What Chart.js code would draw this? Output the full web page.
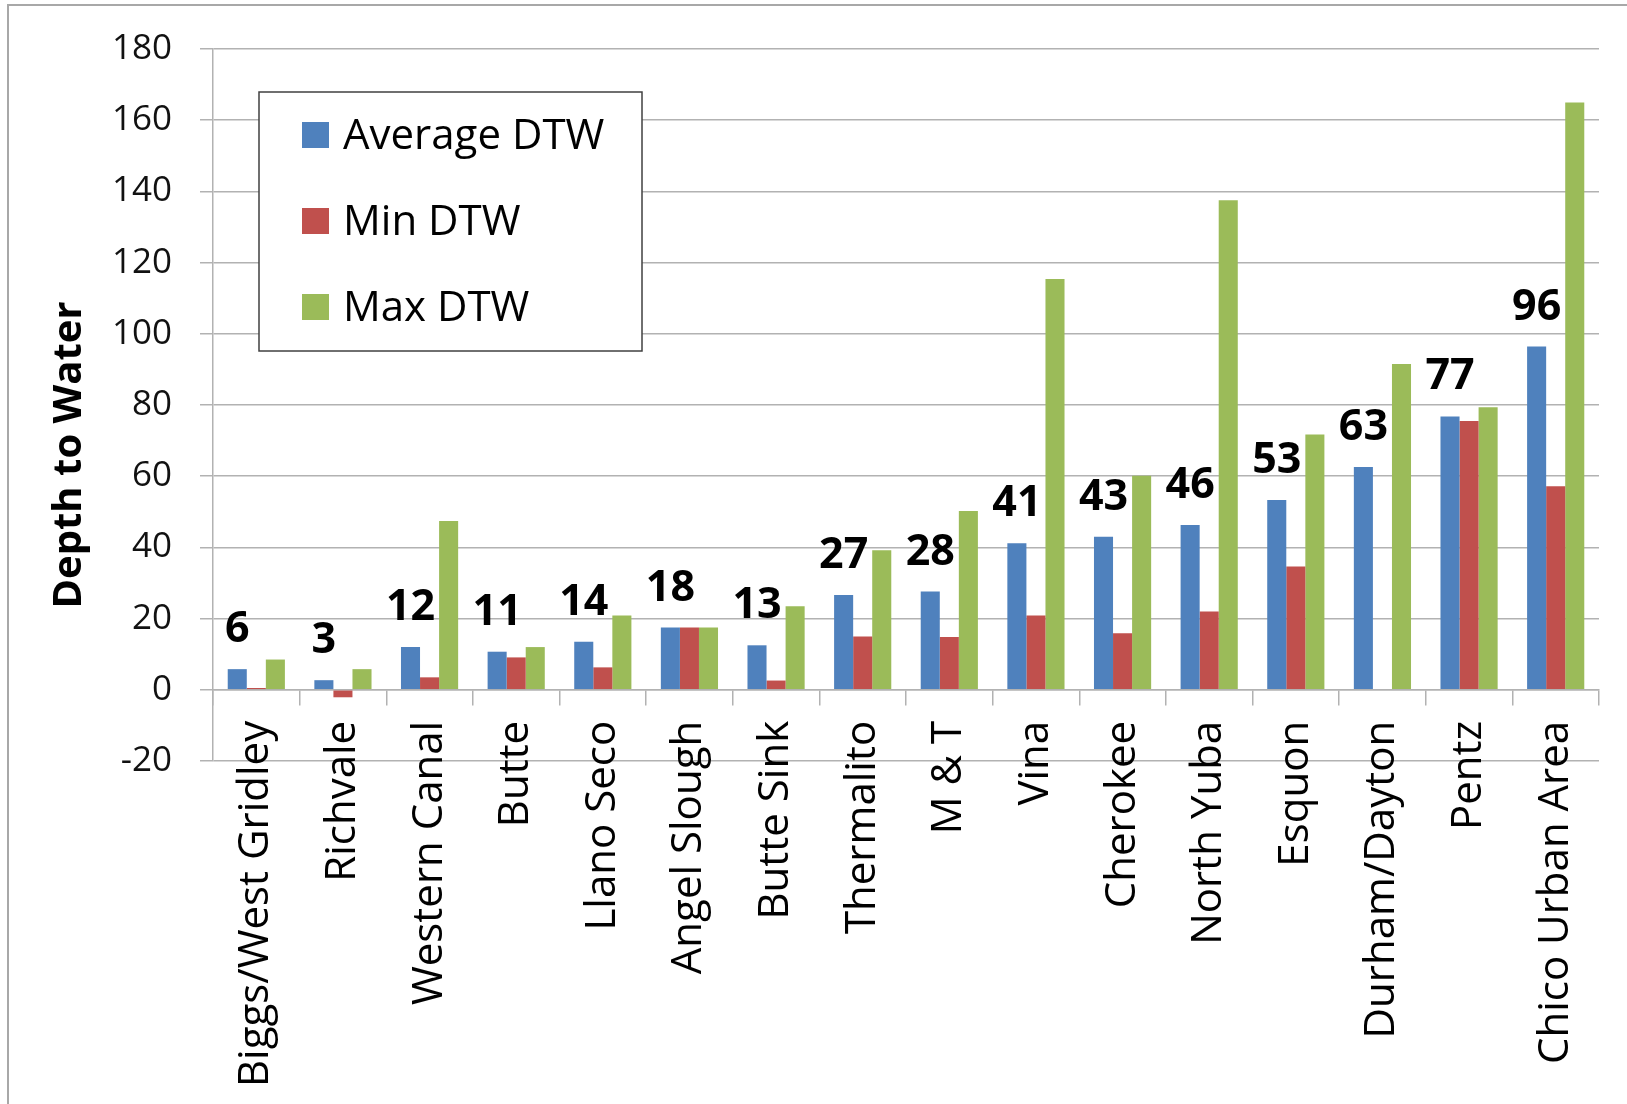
<!DOCTYPE html>
<html>
<head>
<meta charset="utf-8">
<title>Depth to Water</title>
<script src="https://cdn.jsdelivr.net/npm/chart.js@4.4.1/dist/chart.umd.min.js"></script>
<style>
    html, body { margin: 0; padding: 0; background: #fff; }
    #wrap { position: relative; width: 1627px; height: 1104px; }
</style>
</head>
<body>
<div id="wrap"><canvas id="dtwChart"></canvas></div>
<script>
const areas = [
    'Biggs/West Gridley', 'Richvale', 'Western Canal', 'Butte', 'Llano Seco',
    'Angel Slough', 'Butte Sink', 'Thermalito', 'M & T', 'Vina', 'Cherokee',
    'North Yuba', 'Esquon', 'Durham/Dayton', 'Pentz', 'Chico Urban Area'
];
const avgDtw = [5.8, 2.7, 12.0, 10.7, 13.5, 17.5, 12.5, 26.6, 27.6, 41.2, 43.0, 46.3, 53.3, 62.6, 76.8, 96.4];
const minDtw = [0.5, -2.1, 3.5, 9.1, 6.3, 17.5, 2.6, 15.0, 14.8, 20.9, 15.9, 22.0, 34.6, null, 75.5, 57.2];
const maxDtw = [8.5, 5.8, 47.4, 12.0, 20.9, 17.5, 23.5, 39.2, 50.2, 115.4, 60.1, 137.5, 71.7, 91.5, 79.4, 165.0];
const yTicks = [-20, 0, 20, 40, 60, 80, 100, 120, 140, 160, 180];
const yTitle = 'Depth to Water';

const gridColor = '#b2b2b2';
Chart.defaults.font.family = "'Open Sans', 'Liberation Sans', sans-serif";
Chart.defaults.color = '#000';

// white background + outer chart frame
const frame = {
    id: 'frame',
    beforeDraw(chart) {
        const { ctx, width, height } = chart;
        ctx.save();
        ctx.fillStyle = '#fff';
        ctx.fillRect(0, 0, width, height);
        ctx.strokeStyle = '#a8a8a8';
        ctx.lineWidth = 2;
        ctx.beginPath();
        ctx.moveTo(8, height);
        ctx.lineTo(8, 5);
        ctx.lineTo(width, 5);
        ctx.stroke();
        ctx.restore();
    }
};

// rounded average printed above each blue bar
const avgLabels = {
    id: 'avgLabels',
    afterDatasetsDraw(chart) {
        const { ctx } = chart;
        const meta = chart.getDatasetMeta(0);
        ctx.save();
        ctx.font = "bold 43px 'Open Sans'";
        ctx.fillStyle = '#000';
        ctx.textAlign = 'center';
        ctx.textBaseline = 'alphabetic';
        meta.data.forEach((bar, i) => {
            ctx.fillText(String(Math.round(avgDtw[i])), bar.x, bar.y - 27);
        });
        ctx.restore();
    }
};

// boxed legend inside the plot, plus the y axis title
const boxLegend = {
    id: 'boxLegend',
    afterDraw(chart) {
        const { ctx, chartArea } = chart;
        const left = chartArea.left + 46;
        const top = chartArea.top + 43;
        ctx.save();
        ctx.fillStyle = '#fff';
        ctx.fillRect(left, top, 383, 259);
        ctx.strokeStyle = '#404040';
        ctx.lineWidth = 1.5;
        ctx.strokeRect(left, top, 383, 259);
        ctx.font = "42px 'Open Sans'";
        ctx.textAlign = 'left';
        ctx.textBaseline = 'alphabetic';
        chart.data.datasets.forEach((ds, i) => {
            const cy = top + 43 + i * 86;
            ctx.fillStyle = ds.backgroundColor;
            ctx.fillRect(left + 43, cy - 13, 27, 26);
            ctx.fillStyle = '#000';
            ctx.fillText(ds.label, left + 84, cy + 14);
        });

        ctx.translate(81, 455);
        ctx.rotate(-Math.PI / 2);
        ctx.font = "bold 40px 'Open Sans'";
        ctx.textAlign = 'center';
        ctx.fillText(yTitle, 0, 0);
        ctx.restore();
    }
};

const ctx = document.getElementById('dtwChart').getContext('2d');
const dtwChart = new Chart(ctx, {
    type: 'bar',
    data: {
        labels: areas,
        datasets: [
            { label: 'Average DTW', data: avgDtw, backgroundColor: '#4f81bd' },
            { label: 'Min DTW', data: minDtw, backgroundColor: '#c0504d' },
            { label: 'Max DTW', data: maxDtw, backgroundColor: '#9bbb59' }
        ]
    },
    options: {
        responsive: true,
        maintainAspectRatio: false,
        animation: false,
        categoryPercentage: 0.66,
        barPercentage: 1.0,
        layout: { padding: { top: 45, right: 28, bottom: 343, left: 0 } },
        plugins: {
            legend: { display: false },
            tooltip: { enabled: false }
        },
        scales: {
            x: {
                position: { y: 0 },
                grid: {
                    offset: true,
                    drawOnChartArea: false,
                    drawTicks: true,
                    tickLength: 15,
                    color: gridColor,
                    lineWidth: 1.5
                },
                border: { display: true, color: gridColor, width: 1.5 },
                ticks: {
                    minRotation: 90,
                    maxRotation: 90,
                    autoSkip: false,
                    padding: 16,
                    color: '#000',
                    font: { size: 42 }
                }
            },
            y: {
                min: -20,
                max: 180,
                afterFit: s => { s.width = 213; },
                afterBuildTicks: s => { s.ticks = yTicks.map(v => ({ value: v })); },
                grid: { color: gridColor, lineWidth: 1.5, tickLength: 13 },
                border: { display: true, color: gridColor, width: 1.5 },
                ticks: { padding: 28, color: '#111', font: { size: 35 } }
            }
        }
    },
    plugins: [frame, avgLabels, boxLegend]
});
</script>
</body>
</html>
